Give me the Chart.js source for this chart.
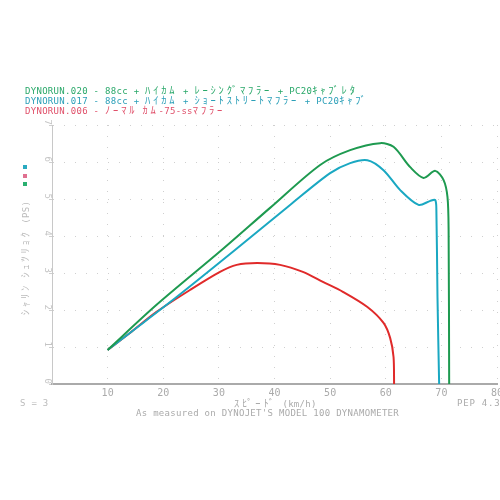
<!DOCTYPE html>
<html>
<head>
<meta charset="utf-8">
<script src="https://cdn.jsdelivr.net/npm/chart.js@4.4.1/dist/chart.umd.min.js"></script>
<style>
  html, body { margin: 0; padding: 0; background: #fff; }
  #wrap { position: relative; width: 500px; height: 500px; overflow: hidden; }
  #wrap canvas { position: absolute; left: 0; top: 0; }
  .txt { position: absolute; white-space: pre; font-family: "DejaVu Sans Mono", "Noto Sans CJK JP", monospace; font-size: 9px; letter-spacing: 0.3px; line-height: 1; }
  .k { font-family: "Noto Sans CJK JP", sans-serif; font-size: 10.5px; letter-spacing: 2.8px; }
  .mark { position: absolute; width: 4px; height: 4px; }
</style>
</head>
<body>
<div id="wrap">
  <canvas id="dyno" width="500" height="500"></canvas>
  <div class="txt" style="left:25px; top:85px; color:#2aa86a;">DYNORUN.020 - 88cc + <span class="k">ﾊｲｶﾑ</span> + <span class="k">ﾚｰｼﾝｸﾞﾏﾌﾗｰ</span> + PC20<span class="k">ｷｬﾌﾞﾚﾀ</span></div>
  <div class="txt" style="left:25px; top:94.5px; color:#2a9fb8;">DYNORUN.017 - 88cc + <span class="k">ﾊｲｶﾑ</span> + <span class="k">ｼｮｰﾄｽﾄﾘｰﾄﾏﾌﾗｰ</span> + PC20<span class="k">ｷｬﾌﾞ</span></div>
  <div class="txt" style="left:25px; top:104.5px; color:#e0506a;">DYNORUN.006 - <span class="k">ﾉｰﾏﾙ ｶﾑ</span>-75-ss<span class="k">ﾏﾌﾗｰ</span></div>
  <div class="mark" style="left:23px; top:165px; background:#2aaac0;"></div>
  <div class="mark" style="left:23px; top:174px; background:#e07090;"></div>
  <div class="mark" style="left:23px; top:182px; background:#2ab070;"></div>
  <div class="txt" style="left:25px; top:258px; color:#bbb; transform: translate(-50%, -50%) rotate(-90deg);"><span class="k">ｼｬﾘﾝ ｼｭﾂﾘｮｸ</span> (PS)</div>
  <div class="txt" style="left:234px; top:398px; color:#aaa;"><span class="k">ｽﾋﾟｰﾄﾞ</span> (km/h)</div>
  <div class="txt" style="left:136px; top:409px; color:#aaa;">As measured on DYNOJET'S MODEL 100 DYNAMOMETER</div>
  <div class="txt" style="left:457px; top:399px; color:#aaa; letter-spacing:0.8px;">PEP 4.31</div>
  <div class="txt" style="left:20px; top:399px; color:#bbb;">S = 3</div>
</div>
<script>
// speed (km/h) and wheel power (PS)
var run020Speed = [10, 18.8, 30.5, 39.2, 48.2, 53.6, 59.0, 61.4, 64.4, 66.8, 68.9, 70.4, 71.1, 71.3, 71.4];
var run020Power = [0.92, 2.14, 3.62, 4.76, 5.92, 6.32, 6.51, 6.41, 5.86, 5.57, 5.76, 5.51, 5.05, 4.16, 0];

var run017Speed = [10, 14.0, 22.4, 32.9, 42.8, 50.0, 53.6, 56.7, 59.6, 62.6, 65.9, 68.0, 68.9, 69.1, 69.3, 69.6];
var run017Power = [0.92, 1.38, 2.35, 3.62, 4.84, 5.70, 5.97, 6.05, 5.78, 5.24, 4.84, 4.95, 4.97, 4.70, 2.35, 0];

var run006Speed = [10, 14.0, 18.8, 24.8, 30.2, 33.2, 36.9, 41.0, 45.1, 48.7, 52.3, 56.7, 59.6, 60.8, 61.4, 61.5];
var run006Power = [0.92, 1.38, 1.95, 2.54, 3.03, 3.22, 3.27, 3.22, 3.03, 2.76, 2.49, 2.08, 1.65, 1.24, 0.73, 0];

var speedTicks = [0, 10, 20, 30, 40, 50, 60, 70, 80];
var powerTicks = [0, 1, 2, 3, 4, 5, 6, 7];

function toPoints(xs, ys) {
    var pts = [];
    for (var i = 0; i < xs.length; i++) pts.push({ x: xs[i], y: ys[i] });
    return pts;
}

var ctx = document.getElementById('dyno');
new Chart(ctx, {
    type: 'line',
    data: {
        datasets: [
            { label: 'DYNORUN.020', data: toPoints(run020Speed, run020Power), borderColor: '#1e9a50', borderWidth: 2, pointRadius: 0, tension: 0.3, fill: false },
            { label: 'DYNORUN.017', data: toPoints(run017Speed, run017Power), borderColor: '#1aa8c2', borderWidth: 2, pointRadius: 0, tension: 0.3, fill: false },
            { label: 'DYNORUN.006', data: toPoints(run006Speed, run006Power), borderColor: '#e02a2a', borderWidth: 2, pointRadius: 0, tension: 0.3, fill: false }
        ]
    },
    options: {
        responsive: false,
        animation: false,
        layout: { padding: { top: 125, right: 3, left: 0, bottom: 0 } },
        plugins: { legend: { display: false }, tooltip: { enabled: false } },
        scales: {
            x: {
                type: 'linear', min: 0, max: 80,
                afterFit: function(scale) { scale.height = 116; scale.paddingRight = 0; scale.paddingLeft = 0; },
                afterBuildTicks: function(scale) { scale.ticks = speedTicks.map(function(v) { return { value: v }; }); },
                ticks: {
                    color: '#aaa', padding: 3,
                    font: { family: 'DejaVu Sans Mono', size: 10 },
                    callback: function(v) { return v === 0 ? '' : String(v); }
                },
                grid: { color: '#cfcfcf', tickLength: 0, lineWidth: 1 },
                border: { color: '#aaa', width: 2, dash: [1, 10] }
            },
            y: {
                type: 'linear', min: 0, max: 7,
                afterFit: function(scale) { scale.width = 52; scale.paddingTop = 0; scale.paddingBottom = 0; },
                afterBuildTicks: function(scale) { scale.ticks = powerTicks.map(function(v) { return { value: v }; }); },
                ticks: {
                    color: '#c4c4c4', padding: 2, minRotation: -90, maxRotation: -90,
                    font: { family: 'DejaVu Sans Mono', size: 9 }
                },
                grid: { color: '#cfcfcf', tickLength: 3, lineWidth: 1 },
                border: { color: '#c8c8c8', width: 1, dash: [1, 10] }
            }
        }
    }
});
</script>
</body>
</html>
